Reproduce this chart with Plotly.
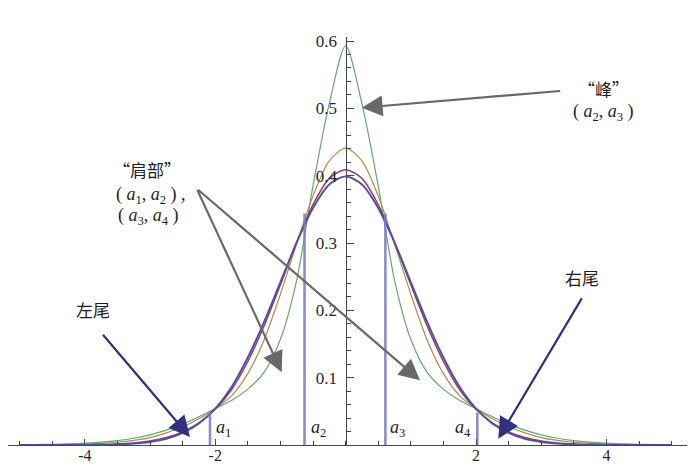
import plotly.graph_objects as go

# ---- data ----
x_vals = [-5.0, -4.75, -4.5, -4.25, -4.0, -3.75, -3.5, -3.25, -3.0, -2.75, -2.5, -2.25,
          -2.0, -1.75, -1.5, -1.25, -1.0, -0.75, -0.5, -0.25, 0.0,
          0.25, 0.5, 0.75, 1.0, 1.25, 1.5, 1.75, 2.0, 2.25, 2.5, 2.75, 3.0,
          3.25, 3.5, 3.75, 4.0, 4.25, 4.5, 4.75, 5.0]

blue_vals = [0.0, 0.00001, 0.00002, 0.00005, 0.00013, 0.0004, 0.0009, 0.0020, 0.0044, 0.009, 0.018, 0.032,
             0.054, 0.086, 0.130, 0.183, 0.242, 0.301, 0.352, 0.387, 0.399,
             0.387, 0.352, 0.301, 0.242, 0.183, 0.130, 0.086, 0.054, 0.032, 0.018, 0.009, 0.0044,
             0.0020, 0.0009, 0.0004, 0.00013, 0.00005, 0.00002, 0.00001, 0.0]

red_vals = [0.00002, 0.00005, 0.0001, 0.0002, 0.0004, 0.0008, 0.0016, 0.0031, 0.006, 0.011, 0.0195, 0.033,
            0.053, 0.082, 0.124, 0.177, 0.238, 0.301, 0.357, 0.396, 0.409,
            0.396, 0.357, 0.301, 0.238, 0.177, 0.124, 0.082, 0.053, 0.033, 0.0195, 0.011, 0.006,
            0.0031, 0.0016, 0.0008, 0.0004, 0.0002, 0.0001, 0.00005, 0.00002]

olive_vals = [0.0002, 0.0003, 0.0005, 0.0008, 0.0014, 0.0024, 0.0041, 0.0068, 0.011, 0.018, 0.027, 0.039,
              0.054, 0.073, 0.106, 0.156, 0.224, 0.299, 0.370, 0.422, 0.441,
              0.422, 0.370, 0.299, 0.224, 0.156, 0.106, 0.073, 0.054, 0.039, 0.027, 0.018, 0.011,
              0.0068, 0.0041, 0.0024, 0.0014, 0.0008, 0.0005, 0.0003, 0.0002]

green_vals = [0.0005, 0.0007, 0.0011, 0.0017, 0.0027, 0.0042, 0.0065, 0.010, 0.015, 0.022, 0.031, 0.042,
              0.054, 0.066, 0.083, 0.108, 0.157, 0.245, 0.385, 0.507, 0.593,
              0.507, 0.385, 0.245, 0.157, 0.108, 0.083, 0.066, 0.054, 0.042, 0.031, 0.022, 0.015,
              0.010, 0.0065, 0.0042, 0.0027, 0.0017, 0.0011, 0.0007, 0.0005]

a_pos = [-2.08, -0.63, 0.61, 2.02]
a_top = [0.048, 0.344, 0.344, 0.048]
a_names = ["1", "2", "3", "4"]

x_tick_vals = [-4, -2, 2, 4]
x_tick_text = ["-4", "-2", "2", "4"]
y_tick_vals = [0.1, 0.2, 0.3, 0.4, 0.5, 0.6]
y_tick_text = ["0.1", "0.2", "0.3", "0.4", "0.5", "0.6"]

# ---- figure ----
W, H = 692, 464
ML, MR, MT, MB = 8, 5, 37, 19
X0, X1 = -5.178, 5.236
Y0, Y1 = 0.0, 0.606
SERIF = "Liberation Serif"
CJK = "Noto Sans CJK SC"

fig = go.Figure()

curves = [
    (green_vals, "rgb(104,166,112)", 1.2),
    (olive_vals, "rgb(160,146,80)", 1.2),
    (red_vals, "rgb(150,62,100)", 1.5),
    (blue_vals, "rgb(82,78,160)", 1.9),
]
for vals, col, w in curves:
    fig.add_trace(go.Scatter(x=x_vals, y=vals, mode="lines",
                             line=dict(color=col, width=w, shape="spline", smoothing=0.8),
                             hoverinfo="skip", showlegend=False, cliponaxis=True))

for xp, yt in zip(a_pos, a_top):
    fig.add_trace(go.Scatter(x=[xp, xp], y=[0, yt], mode="lines",
                             line=dict(color="rgba(120,120,200,0.85)", width=2.6),
                             hoverinfo="skip", showlegend=False))

yaxis_pos = (0 - X0) / (X1 - X0)

fig.update_layout(
    width=W, height=H,
    margin=dict(l=ML, r=MR, t=MT, b=MB, autoexpand=False),
    paper_bgcolor="white", plot_bgcolor="white",
    showlegend=False,
    xaxis=dict(range=[X0, X1], showgrid=False, zeroline=False,
               showline=True, linecolor="rgb(70,70,70)", linewidth=1.3,
               ticks="inside", ticklen=6, tickwidth=1, tickcolor="rgb(70,70,70)",
               tickvals=x_tick_vals, ticktext=x_tick_text, ticklabelstandoff=-4,
               tickfont=dict(family=SERIF, size=16, color="rgb(40,40,40)"),
               minor=dict(dtick=0.5, tick0=0, ticks="inside", ticklen=4,
                          tickcolor="rgb(70,70,70)", tickwidth=1, showgrid=False),
               fixedrange=True),
    yaxis=dict(range=[Y0, Y1], showgrid=False, zeroline=False,
               anchor="free", position=yaxis_pos, side="left",
               showline=True, linecolor="rgb(70,70,70)", linewidth=1.3,
               ticks="inside", ticklen=7, tickwidth=1, tickcolor="rgb(70,70,70)",
               tickvals=y_tick_vals, ticktext=y_tick_text, ticklabelstandoff=5,
               tickfont=dict(family=SERIF, size=17, color="rgb(40,40,40)"),
               minor=dict(dtick=0.02, tick0=0, ticks="inside", ticklen=4,
                          tickcolor="rgb(70,70,70)", tickwidth=1, showgrid=False),
               fixedrange=True),
)

# labels a1..a4
a_label_x = [-1.88, -0.42, 0.80, 1.80]
for lx, n in zip(a_label_x, a_names):
    fig.add_annotation(x=lx, y=0.024, xref="x", yref="y", showarrow=False,
                       text=f"<i>a</i><sub>{n}</sub>",
                       font=dict(family=SERIF, size=18, color="rgb(30,30,30)"))

GRAY = "rgb(105,105,105)"
NAVY = "rgb(48,48,125)"

def arrow(tip, tail, color):
    fig.add_annotation(x=tip[0], y=tip[1], ax=tail[0], ay=tail[1],
                       xref="x", yref="y", axref="x", ayref="y",
                       text="", showarrow=True, arrowhead=2, arrowsize=1.9,
                       arrowwidth=2.2, arrowcolor=color, standoff=0)

arrow((0.247, 0.501), (3.314, 0.526), GRAY)
arrow((-0.98, 0.108), (-2.285, 0.381), GRAY)
arrow((1.141, 0.096), (-2.285, 0.381), GRAY)
arrow((-2.387, 0.0117), (-3.741, 0.166), NAVY)
arrow((2.342, 0.0094), (3.636, 0.220), NAVY)

def text(x, y, s, family, size, xanchor="center"):
    fig.add_annotation(x=x, y=y, xref="x", yref="y", showarrow=False, text=s,
                       xanchor=xanchor, yanchor="middle",
                       font=dict(family=family, size=size, color="rgb(30,30,30)"))

text(3.95, 0.530, "“峰”", CJK, 17)
text(3.95, 0.494, "( <i>a</i><sub>2</sub>, <i>a</i><sub>3</sub> )", SERIF, 18)
text(-3.045, 0.409, "“肩部”", CJK, 17)
text(-3.55, 0.371, "( <i>a</i><sub>1</sub>, <i>a</i><sub>2</sub> ) ,", SERIF, 18, "left")
text(-3.52, 0.340, "( <i>a</i><sub>3</sub>, <i>a</i><sub>4</sub> )", SERIF, 18, "left")
text(-3.874, 0.2017, "左尾", CJK, 17)
text(3.62, 0.249, "右尾", CJK, 17)

fig.write_html("out.html", config={"displayModeBar": False},
               post_script="document.body.style.margin='0';document.body.style.overflow='hidden';")
